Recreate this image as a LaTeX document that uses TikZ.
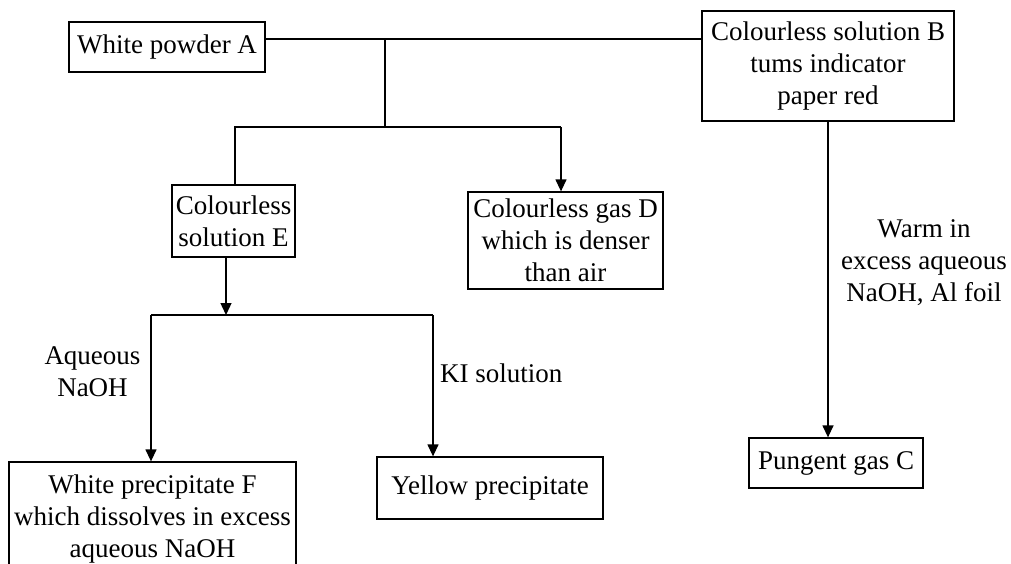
\documentclass[tikz,border=0pt]{standalone}
\usepackage{fontspec}
\setmainfont{Liberation Serif}
\usetikzlibrary{arrows.meta}
\begin{document}
\begin{tikzpicture}[x=1pt,y=-1pt,
  txt/.style={font=\fontsize{27}{32}\selectfont, align=center},
  box/.style={txt, draw, line width=1.3pt, inner sep=0pt},
  lbl/.style={txt, inner sep=0pt},
  conn/.style={line width=1.3pt},
  arr/.style={conn, -{Triangle[width=11pt,length=12pt]}}]
\useasboundingbox (0,0) rectangle (1011,563);
\clip (0,0) rectangle (1011,563);
% boxes
\node[box, minimum width=196pt, minimum height=50pt] (A) at (167,47) {White powder A};
\node[box, minimum width=252pt, minimum height=110pt] (B) at (828,66) {Colourless solution B\\tums indicator\\paper red};
\node[box, minimum width=123pt, minimum height=72pt] (E) at (233.5,221) {Colourless\\solution E};
\node[box, minimum width=195pt, minimum height=97pt] (D) at (565.5,240.5) {Colourless gas D\\which is denser\\than air};
\node[box, minimum width=287pt, minimum height=114pt] (F) at (152.5,519) {White precipitate F\\which dissolves in excess\\aqueous NaOH};
\node[box, minimum width=226pt, minimum height=62pt] (Y) at (490,488) {Yellow precipitate};
\node[box, minimum width=174pt, minimum height=50pt] (C) at (836,463) {Pungent gas C};
% junctions
\coordinate (J1) at (385,39);
\coordinate (J2) at (385,127);
\coordinate (J3) at (235,127);
\coordinate (J4) at (561,127);
\coordinate (J5) at (226,315);
\coordinate (J6) at (151,315);
\coordinate (J7) at (433,315);
% connectors
\draw[conn] (A.east |- J1) -- (B.west |- J1);
\draw[conn] (J1) -- (J2);
\draw[conn] (J4) -- (J3) -- (J3 |- E.north);
\draw[arr] (J4) -- (J4 |- D.north);
\draw[arr] (J5 |- E.south) -- (J5);
\draw[conn] (J6) -- (J7);
\draw[arr] (J6) -- (J6 |- F.north);
\draw[arr] (J7) -- (J7 |- Y.north);
\draw[arr] (B.south) -- (B.south |- C.north);
% labels
\node[lbl] (l1) at (92.5,372) {Aqueous\\NaOH};
\node[lbl, anchor=west] (l2) at (440,373) {KI solution};
\node[lbl] (l3) at (924,263) {Warm in\\excess aqueous\\NaOH, Al foil};
\end{tikzpicture}
\end{document}
